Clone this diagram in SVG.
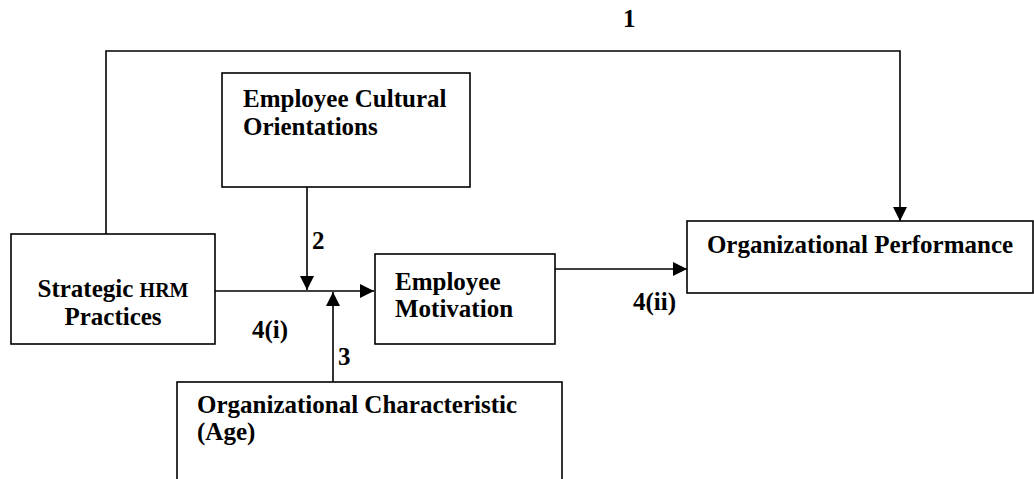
<svg xmlns="http://www.w3.org/2000/svg" width="1034" height="479" viewBox="0 0 1034 479">
  <defs>
    <marker id="arrow" markerUnits="userSpaceOnUse" markerWidth="14" markerHeight="14" refX="14" refY="7" orient="auto">
      <path d="M0,0 L14,7 L0,14 Z" fill="#000"/>
    </marker>
    <style>
      .box { fill: #fff; stroke: #000; stroke-width: 1.6; }
      .conn { fill: none; stroke: #000; stroke-width: 1.6; }
      .t { font-family: "Liberation Serif", "Times New Roman", serif; font-weight: bold; font-size: 25px; fill: #000; }
      .sc { font-size: 20px; }
      .mid { text-anchor: middle; }
    </style>
  </defs>

  <rect width="1034" height="479" fill="#fff"/>

  <!-- connectors -->
  <g id="connectors">
    <path class="conn" d="M106,234 V51 H900 V221" marker-end="url(#arrow)"/>
    <path class="conn" d="M215,291 H374" marker-end="url(#arrow)"/>
    <path class="conn" d="M307,187 V290" marker-end="url(#arrow)"/>
    <path class="conn" d="M333,382 V292" marker-end="url(#arrow)"/>
    <path class="conn" d="M555,269 H687" marker-end="url(#arrow)"/>
  </g>

  <!-- path labels -->
  <g id="labels">
    <text class="t" x="623" y="27">1</text>
    <text class="t" x="312" y="249">2</text>
    <text class="t" x="338" y="365">3</text>
    <text class="t" x="252" y="338">4(i)</text>
    <text class="t" x="633" y="310">4(ii)</text>
  </g>

  <g id="strategic-hrm">
    <rect class="box" x="11" y="234" width="204" height="110"/>
    <text class="t mid" x="113" y="297">Strategic <tspan class="sc">HRM</tspan></text>
    <text class="t mid" x="113" y="325">Practices</text>
  </g>

  <g id="cultural-orientations">
    <rect class="box" x="222" y="73" width="248" height="114"/>
    <text class="t" x="243" y="107">Employee Cultural</text>
    <text class="t" x="243" y="135">Orientations</text>
  </g>

  <g id="employee-motivation">
    <rect class="box" x="375" y="254" width="180" height="90"/>
    <text class="t" x="395" y="290">Employee</text>
    <text class="t" x="395" y="317">Motivation</text>
  </g>

  <g id="organizational-performance">
    <rect class="box" x="687" y="221" width="346" height="72"/>
    <text class="t mid" x="860" y="253">Organizational Performance</text>
  </g>

  <g id="organizational-characteristic">
    <rect class="box" x="177" y="382" width="385" height="120"/>
    <text class="t" x="197" y="413">Organizational Characteristic</text>
    <text class="t" x="197" y="440">(Age)</text>
  </g>
</svg>
